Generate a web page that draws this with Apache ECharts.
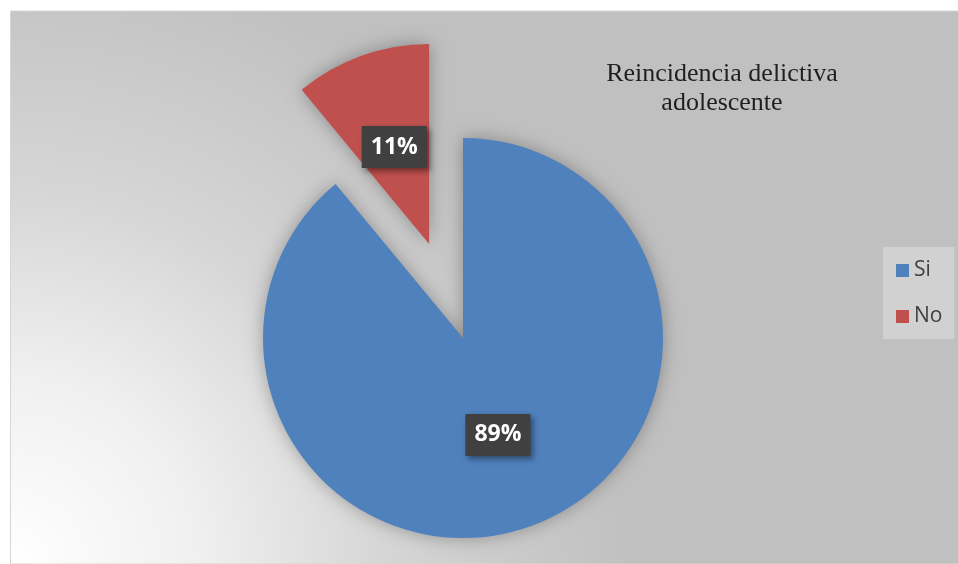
<!DOCTYPE html>
<html>
<head>
<meta charset="utf-8">
<title>Reincidencia delictiva adolescente</title>
<script src="https://cdn.jsdelivr.net/npm/echarts@6/dist/echarts.min.js"></script>
<style>
  html, body { margin: 0; padding: 0; background: #ffffff; }
  #chart { width: 958px; height: 564px; }
</style>
</head>
<body>
<div id="chart"></div>
<script>
// Chart data
const categories = ['Si', 'No'];
const values = [89, 11];
const colors = ['#4f81bd', '#c0504d'];
const titleLines = ['Reincidencia delictiva', 'adolescente'];

const chart = echarts.init(document.getElementById('chart'), null, { renderer: 'canvas' });

const pieData = categories.map((name, i) => ({
  name: name,
  value: values[i],
  selected: name === 'No',
  itemStyle: { color: colors[i] },
  select: { itemStyle: { color: colors[i] } }
}));

const option = {
  animation: false,
  graphic: [{
    type: 'rect',
    z: -10,
    silent: true,
    shape: { x: 10.5, y: 11, width: 948, height: 553 },
    style: {
      // light corner at the bottom left fading to grey
      fill: new echarts.graphic.RadialGradient(10, 564, 620, [
        { offset: 0, color: '#ffffff' },
        { offset: 0.3, color: '#f0f0f0' },
        { offset: 0.6, color: '#d6d6d6' },
        { offset: 1, color: '#c0c0c0' }
      ], true),
      stroke: '#d6d6d6',
      lineWidth: 1
    }
  }],
  title: {
    text: titleLines.join('\n'),
    left: 722,
    top: 60,
    padding: 0,
    textAlign: 'center',
    textStyle: {
      fontFamily: 'Liberation Serif',
      fontSize: 26,
      fontWeight: 'normal',
      color: '#1f1f1f',
      lineHeight: 29
    }
  },
  legend: {
    orient: 'vertical',
    left: 883,
    top: 247,
    padding: [13, 12, 12, 13],
    itemWidth: 13,
    itemHeight: 13,
    itemGap: 25,
    backgroundColor: 'rgba(255,255,255,0.28)',
    icon: 'rect',
    selectedMode: false,
    data: categories,
    textStyle: {
      fontFamily: 'Open Sans',
      fontSize: 21,
      lineHeight: 20,
      color: '#404040'
    }
  },
  series: [{
    type: 'pie',
    center: [463, 338],
    radius: 200,
    startAngle: 90,
    clockwise: true,
    selectedMode: 'single',
    selectedOffset: 100,
    avoidLabelOverlap: false,
    emphasis: { disabled: true },
    itemStyle: {
      shadowBlur: 18,
      shadowColor: 'rgba(0,0,0,0.3)'
    },
    label: {
      show: true,
      position: 'inside',
      formatter: '{d}%',
      fontFamily: 'Open Sans',
      fontWeight: 'bold',
      fontSize: 23,
      lineHeight: 22,
      color: '#ffffff',
      backgroundColor: '#404040',
      padding: [10, 9],
      shadowColor: 'rgba(0,0,0,0.45)',
      shadowBlur: 6,
      shadowOffsetX: 3,
      shadowOffsetY: 3
    },
    labelLine: { show: false },
    data: pieData
  }]
};

chart.setOption(option);
</script>
</body>
</html>
